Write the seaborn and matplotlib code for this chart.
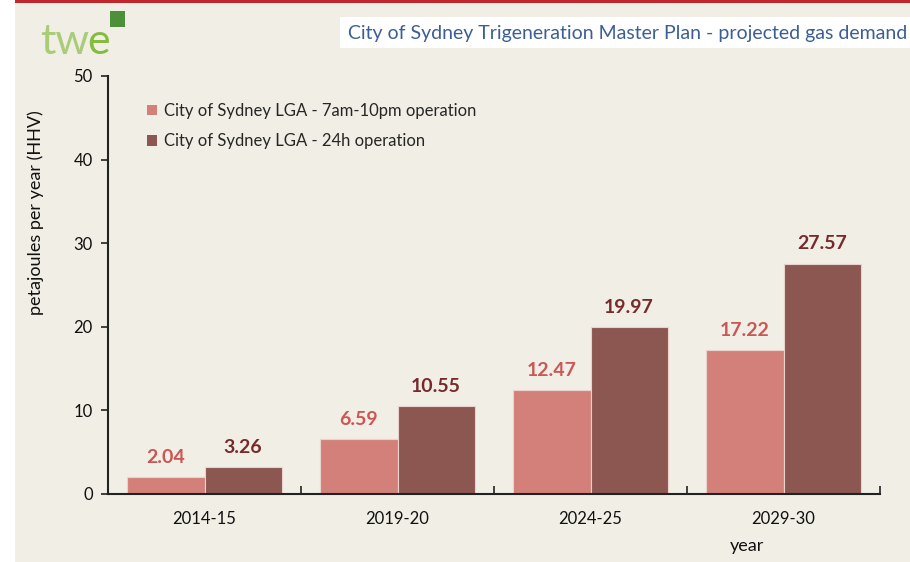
import matplotlib
matplotlib.use("Agg")
import matplotlib.pyplot as plt
from matplotlib.patches import Rectangle
import seaborn as sns
import pandas as pd

# Projected gas demand, petajoules per year (HHV)
years = ["2014-15", "2019-20", "2024-25", "2029-30"]
series_names = ["City of Sydney LGA - 7am-10pm operation",
                "City of Sydney LGA - 24h operation"]
daytime_pj = [2.04, 6.59, 12.47, 17.22]
fullday_pj = [3.26, 10.55, 19.97, 27.57]
y_ticks = [0, 10, 20, 30, 40, 50]

bar_colors = ["#D4807A", "#8C5651"]
label_colors = ["#CC5654", "#762A2B"]
bg = "#F1EEE6"

df = pd.DataFrame({
    "year": years * 2,
    "series": [series_names[0]] * 4 + [series_names[1]] * 4,
    "pj": daytime_pj + fullday_pj,
})

sns.set_theme(style="white")
plt.rcParams["font.family"] = ["Lato", "DejaVu Sans"]

fig = plt.figure(figsize=(9.1, 5.62), dpi=100, facecolor="white")

# page background, red top rule and title box
fig.patches.append(Rectangle((15 / 910, 0), 1, 1, transform=fig.transFigure,
                             facecolor=bg, edgecolor="none", zorder=-10))
fig.patches.append(Rectangle((15 / 910, 1 - 3 / 562), 1, 3 / 562, transform=fig.transFigure,
                             facecolor="#C0272D", edgecolor="none", zorder=-9))
fig.patches.append(Rectangle((340 / 910, 1 - 48 / 562), 570 / 910, 31 / 562,
                             transform=fig.transFigure, facecolor="white",
                             edgecolor="none", zorder=-8))
fig.text(348 / 910, 1 - 34 / 562,
         "City of Sydney Trigeneration Master Plan - projected gas demand",
         color="#3D5E94", fontsize=14, ha="left", va="center")

# logo: "tw" in light green, "e" in green, small cube above
tw = fig.text(40 / 910, 1 - 54 / 562, "tw", color="#A9CC78", fontsize=31,
              ha="left", va="baseline")
fig.canvas.draw()
bb = tw.get_window_extent()
fig.text((bb.x1 - 2) / 910, 1 - 54 / 562, "e", color="#86BC3C", fontsize=31,
         ha="left", va="baseline")
fig.patches.append(Rectangle((110 / 910, 1 - 27 / 562), 15 / 910, 16 / 562,
                             transform=fig.transFigure, facecolor="#4E8F3A",
                             edgecolor="none"))

ax = fig.add_axes([108 / 910, 1 - 494 / 562, 772 / 910, 418 / 562])
ax.set_facecolor(bg)

sns.barplot(data=df, x="year", y="pj", hue="series", order=years,
            hue_order=series_names, palette=bar_colors, saturation=1,
            width=0.8, gap=0, edgecolor="#EAD3CC", linewidth=0.8, ax=ax,
            errorbar=None)

for container, col in zip(ax.containers, label_colors):
    ax.bar_label(container, labels=[f"{v:.2f}" for v in container.datavalues],
                 padding=8, color=col, fontsize=14, fontweight="bold")

ax.set_xlim(-0.5, 3.5)
ax.set_ylim(0, 50)
ax.set_yticks(y_ticks)
ax.tick_params(axis="y", direction="out", length=5, width=1.2, color="#222222",
               labelsize=12, labelcolor="#111111", left=True, pad=6)
ax.tick_params(axis="x", which="major", length=0, labelsize=12,
               labelcolor="#111111", pad=12)
ax.set_xticks([-0.5, 0.5, 1.5, 2.5, 3.5], minor=True)
ax.tick_params(axis="x", which="minor", direction="in", length=6, width=1.2,
               color="#222222", bottom=True)

for side in ["top", "right"]:
    ax.spines[side].set_visible(False)
for side in ["left", "bottom"]:
    ax.spines[side].set_color("#222222")
    ax.spines[side].set_linewidth(1.5)

ax.set_ylabel("")
ax.set_xlabel("year", fontsize=13, color="#111111")
ax.xaxis.set_label_coords((747 - 108) / 772, -44 / 418)
fig.text(36 / 910, 1 - 213 / 562, "petajoules per year (HHV)", rotation=90,
         fontsize=13, color="#111111", ha="center", va="center")

leg = ax.legend(loc="upper left", bbox_to_anchor=(24 / 772, 1 - 12 / 418),
                frameon=False, fontsize=12, handlelength=0.6, handleheight=0.6,
                handletextpad=0.4, labelspacing=0.85)
for h in leg.legend_handles:
    h.set_edgecolor("none")

fig.savefig("out.png", dpi=100, facecolor=fig.get_facecolor())
